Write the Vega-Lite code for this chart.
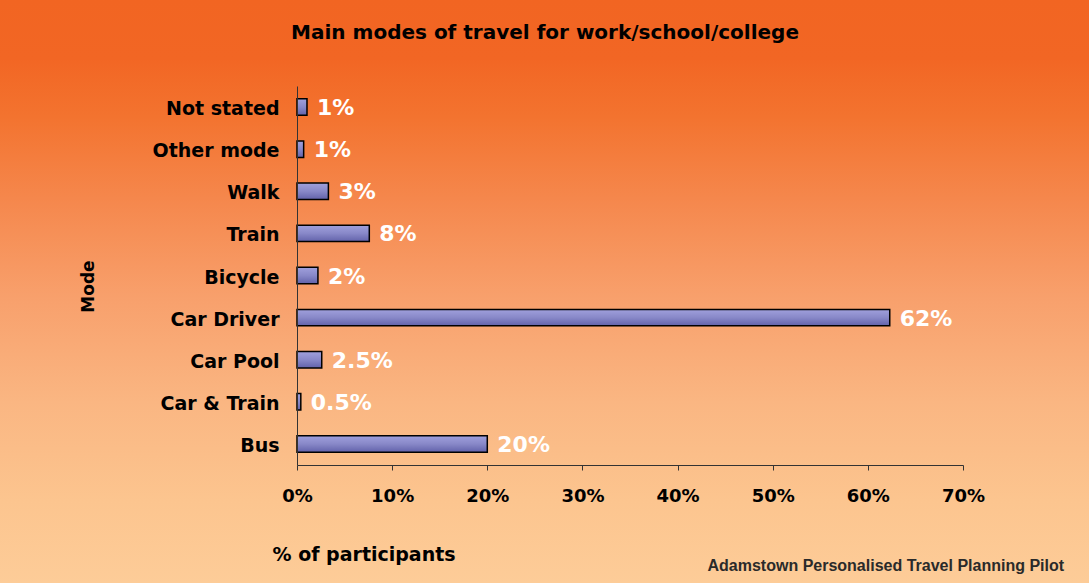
{
  "$schema": "https://vega.github.io/schema/vega-lite/v6.json",
  "width": 666,
  "height": 379,
  "autosize": {"type": "none"},
  "padding": {"left": 297, "top": 86, "right": 126, "bottom": 118},
  "background": "#F8A46E",
  "config": {"view": {"stroke": null}},
  "layer": [
    {
      "data": {"values": [{"title": "Main modes of travel for work/school/college", "note": "Adamstown Personalised Travel Planning Pilot"}]},
      "layer": [
        {
          "mark": {
            "type": "rect",
            "clip": false,
            "fill": {
              "gradient": "linear",
              "x1": 0, "y1": 0, "x2": 0, "y2": 1,
              "stops": [
                {"offset": 0, "color": "#F26522"},
                {"offset": 0.1, "color": "#F26624"},
                {"offset": 0.2, "color": "#F3732F"},
                {"offset": 0.34, "color": "#F5874C"},
                {"offset": 0.51, "color": "#F8A06C"},
                {"offset": 0.69, "color": "#FAB682"},
                {"offset": 0.86, "color": "#FCC58F"},
                {"offset": 1, "color": "#FDCC98"}
              ]
            }
          },
          "encoding": {
            "x": {"datum": -31.216, "type": "quantitative", "scale": {"domain": [0, 70], "nice": false}},
            "x2": {"datum": 83.244},
            "y": {"datum": 465, "type": "quantitative", "scale": {"domain": [0, 379], "nice": false, "zero": false}, "axis": null},
            "y2": {"datum": -118}
          }
        },
        {
          "mark": {
            "type": "text",
            "clip": false,
            "align": "center",
            "baseline": "alphabetic",
            "font": "DejaVu Sans",
            "fontWeight": "bold",
            "fontSize": 20,
            "color": "#000000"
          },
          "encoding": {
            "x": {"datum": 26.07, "type": "quantitative"},
            "y": {"datum": 426, "type": "quantitative"},
            "text": {"field": "title"}
          }
        },
        {
          "mark": {
            "type": "text",
            "clip": false,
            "align": "right",
            "baseline": "alphabetic",
            "font": "Liberation Sans",
            "fontWeight": "bold",
            "fontSize": 16,
            "color": "#2A2A2A"
          },
          "encoding": {
            "x": {"datum": 80.62, "type": "quantitative"},
            "y": {"datum": -106, "type": "quantitative"},
            "text": {"field": "note"}
          }
        }
      ]
    },
    {
      "data": {
        "values": [
          {"mode": "Not stated", "value": 1.05, "label": "1%"},
          {"mode": "Other mode", "value": 0.7, "label": "1%"},
          {"mode": "Walk", "value": 3.3, "label": "3%"},
          {"mode": "Train", "value": 7.6, "label": "8%"},
          {"mode": "Bicycle", "value": 2.2, "label": "2%"},
          {"mode": "Car Driver", "value": 62.3, "label": "62%"},
          {"mode": "Car Pool", "value": 2.6, "label": "2.5%"},
          {"mode": "Car & Train", "value": 0.4, "label": "0.5%"},
          {"mode": "Bus", "value": 20, "label": "20%"}
        ]
      },
      "encoding": {
        "y": {
          "field": "mode",
          "type": "nominal",
          "sort": null,
          "scale": {"paddingInner": 0.61, "paddingOuter": 0.305},
          "axis": {
            "orient": "left",
            "zindex": 1,
            "title": "Mode",
            "titleFont": "DejaVu Sans",
            "titleFontWeight": "bold",
            "titleFontSize": 17,
            "titleColor": "#000000",
            "titleAngle": -90,
            "titleX": -209,
            "titleY": 200,
            "titleAlign": "center",
            "titleBaseline": "middle",
            "domain": true,
            "domainColor": "#333333",
            "domainWidth": 1,
            "ticks": false,
            "labelPadding": 18,
            "labelOffset": 2,
            "labelFont": "DejaVu Sans",
            "labelFontWeight": "bold",
            "labelFontSize": 19,
            "labelColor": "#000000"
          }
        }
      },
      "layer": [
        {
          "mark": {
            "type": "bar",
            "stroke": "#000000",
            "strokeWidth": 1.5,
            "fill": {
              "gradient": "linear",
              "x1": 0, "y1": 0, "x2": 0, "y2": 1,
              "stops": [
                {"offset": 0, "color": "#A0A0DC"},
                {"offset": 0.5, "color": "#8888C8"},
                {"offset": 1, "color": "#6262AA"}
              ]
            }
          },
          "encoding": {
            "x": {
              "field": "value",
              "type": "quantitative",
              "scale": {"domain": [0, 70], "nice": false},
              "axis": {
                "zindex": 1,
                "title": "% of participants",
                "titleFont": "DejaVu Sans",
                "titleFontWeight": "bold",
                "titleFontSize": 19,
                "titleColor": "#000000",
                "titleAnchor": "start",
                "titleAlign": "left",
                "titleBaseline": "alphabetic",
                "titleX": -25,
                "titleY": 95,
                "values": [0, 10, 20, 30, 40, 50, 60, 70],
                "labelExpr": "datum.value + '%'",
                "grid": false,
                "domainColor": "#333333",
                "tickColor": "#333333",
                "tickSize": 5,
                "labelPadding": 17,
                "labelFont": "DejaVu Sans",
                "labelFontWeight": "bold",
                "labelFontSize": 18,
                "labelColor": "#000000",
                "labelFlush": false
              }
            }
          }
        },
        {
          "mark": {
            "type": "text",
            "align": "left",
            "baseline": "middle",
            "dx": 10,
            "dy": 1,
            "font": "DejaVu Sans",
            "fontWeight": "bold",
            "fontSize": 22,
            "color": "#FFFFFF"
          },
          "encoding": {
            "x": {"field": "value", "type": "quantitative"},
            "text": {"field": "label"}
          }
        }
      ]
    }
  ],
  "resolve": {"scale": {"y": "independent"}}
}
